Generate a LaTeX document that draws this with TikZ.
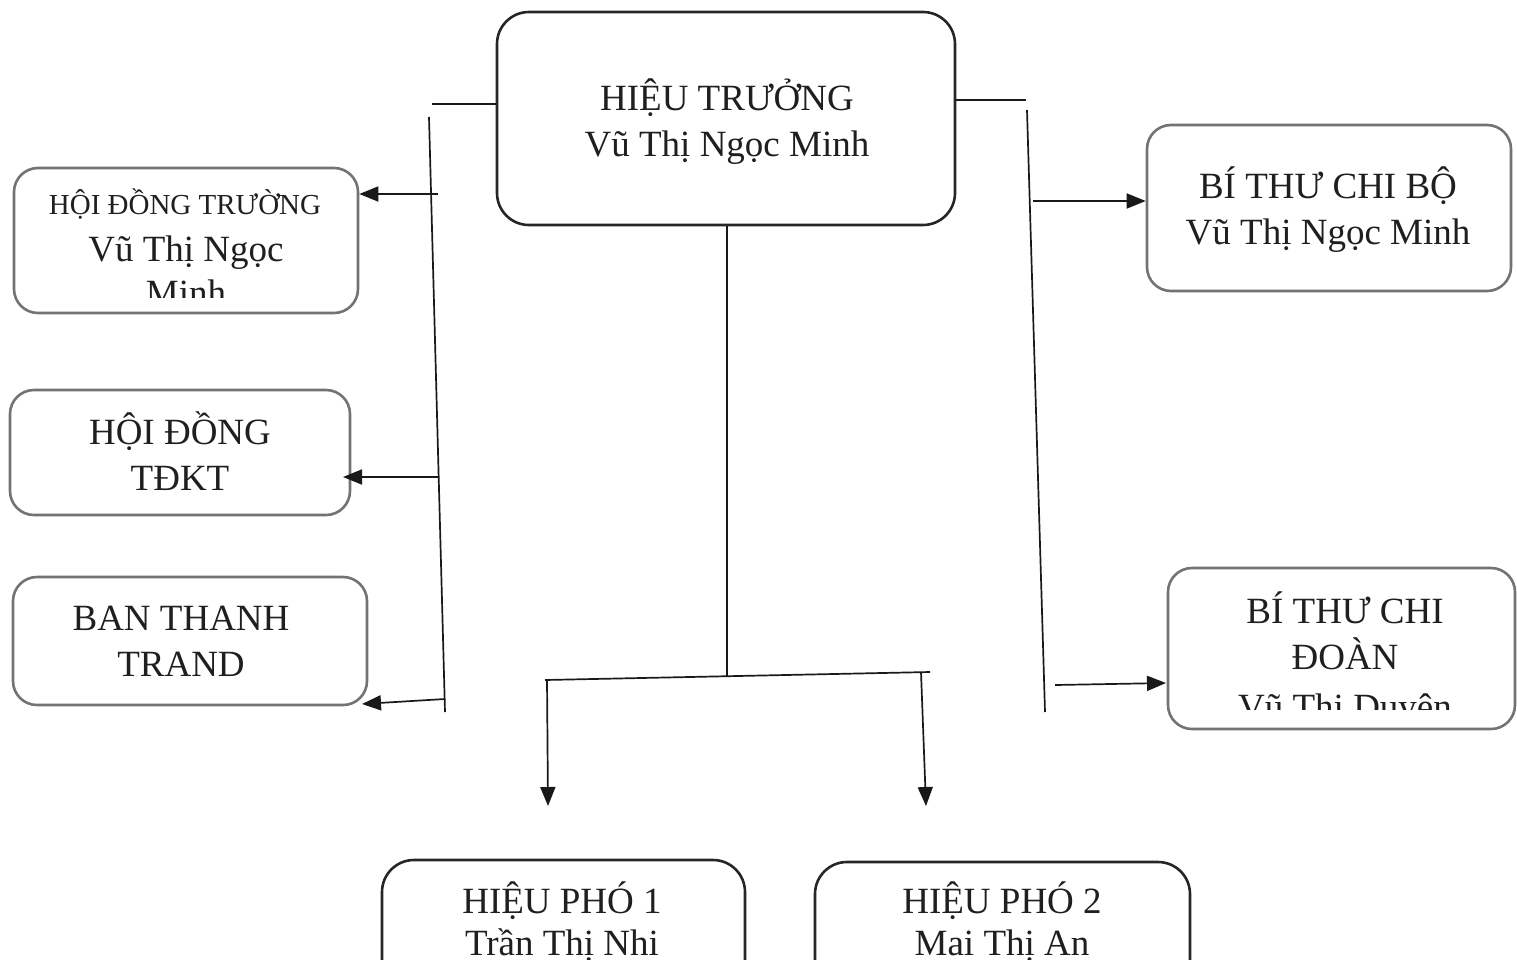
\documentclass[tikz,border=0pt]{standalone}
\usepackage{fontspec}
\setmainfont{Liberation Serif}
\usetikzlibrary{arrows.meta}
\begin{document}
\begin{tikzpicture}[x=1pt,y=-1pt,
  box/.style={draw=black!85, line width=2.6pt, rounded corners=32pt, inner sep=0pt},
  sidebox/.style={draw=black!55, line width=2.6pt, rounded corners=24pt, inner sep=0pt},
  txt/.style={anchor=base, inner sep=0pt, text=black!88, font=\fontsize{37}{44}\selectfont},
  smalltxt/.style={anchor=base, inner sep=0pt, text=black!88, font=\fontsize{29}{34}\selectfont},
  conn/.style={line width=1.7pt, draw=black!90},
  arr/.style={conn, -{Triangle[length=19pt,width=15pt]}}]
\useasboundingbox (0,0) rectangle (1517,959);
\clip (0,0) rectangle (1517,959);
\fill[white] (0,0) rectangle (1517,959);

% boxes
\node[box, minimum width=458pt, minimum height=213pt] (ht) at (726,118.5) {};
\node[sidebox, minimum width=344pt, minimum height=145pt] (hdt) at (186,240.5) {};
\node[sidebox, minimum width=340pt, minimum height=125pt] (tdkt) at (180,452.5) {};
\node[sidebox, minimum width=354pt, minimum height=128pt] (btt) at (190,641) {};
\node[sidebox, minimum width=364pt, minimum height=166pt] (btcb) at (1329,208) {};
\node[sidebox, minimum width=347pt, minimum height=161pt] (btcd) at (1341.5,648.5) {};
\node[box, minimum width=363pt, minimum height=140pt] (hp1) at (563.5,930) {};
\node[box, minimum width=375pt, minimum height=138pt] (hp2) at (1002.5,931) {};

% texts
\node[txt] (ht1) at (727,110) {HIỆU TRƯỞNG};
\node[txt] (ht2) at (727,156) {Vũ Thị Ngọc Minh};

\node[smalltxt] (hdt1) at (185,214) {HỘI ĐỒNG TRƯỜNG};
\node[txt] (hdt2) at (186,261) {Vũ Thị Ngọc};
\begin{scope}
\clip (0,0) rectangle (1517,297);
\node[txt] (hdt3) at (186,305) {Minh};
\end{scope}

\node[txt] (tdkt1) at (180,444) {HỘI ĐỒNG};
\node[txt] (tdkt2) at (180,490) {TĐKT};

\node[txt] (btt1) at (181,630) {BAN THANH};
\node[txt] (btt2) at (181,676) {TRAND};

\node[txt] (btcb1) at (1328,198) {BÍ THƯ CHI BỘ};
\node[txt] (btcb2) at (1328,244) {Vũ Thị Ngọc Minh};

\node[txt] (btcd1) at (1345,623) {BÍ THƯ CHI};
\node[txt] (btcd2) at (1345,669) {ĐOÀN};
\begin{scope}
\clip (0,0) rectangle (1517,709);
\node[txt] (btcd3) at (1345,719) {Vũ Thị Duyên};
\end{scope}

\node[txt] (hp11) at (562,913) {HIỆU PHÓ 1};
\node[txt] (hp12) at (562,955) {Trần Thị Nhi};
\node[txt] (hp21) at (1002,913) {HIỆU PHÓ 2};
\node[txt] (hp22) at (1002,955) {Mai Thị An};

% left branch
\coordinate (lh) at (432,104);
\coordinate (lv1) at (429,117);
\coordinate (lv2) at (445,712);
\draw[conn] (ht.west |- lh) -- (lh);
\draw[conn] (lv1) -- (lv2);
\coordinate (a1) at (438,194);
\draw[arr] (a1) -- (hdt.east |- a1);
\coordinate (a2) at (438,477);
\coordinate (a2t) at (343,477);
\draw[arr] (a2) -- (a2t);
\coordinate (a3) at (445,699);
\coordinate (a3t) at (362,704);
\draw[arr] (a3) -- (a3t);

% right branch
\coordinate (rh) at (1026,100);
\coordinate (rv1) at (1027,110);
\coordinate (rv2) at (1045,712);
\draw[conn] (ht.east |- rh) -- (rh);
\draw[conn] (rv1) -- (rv2);
\coordinate (b1) at (1033,201);
\draw[arr] (b1) -- (btcb.west |- b1);
\coordinate (b2) at (1055,685);
\coordinate (b2t) at (1166,683);
\draw[arr] (b2) -- (b2t);

% centre branch
\coordinate (cm) at (727,676);
\draw[conn] (ht.south -| cm) -- (cm);
\coordinate (hl) at (545,680);
\coordinate (hr) at (930,672);
\draw[conn] (hl) -- (hr);
\coordinate (c1) at (547,680);
\coordinate (c1t) at (548,806);
\coordinate (c2) at (921,672);
\coordinate (c2t) at (926,806);
\draw[arr] (c1) -- (c1t);
\draw[arr] (c2) -- (c2t);
\end{tikzpicture}
\end{document}
